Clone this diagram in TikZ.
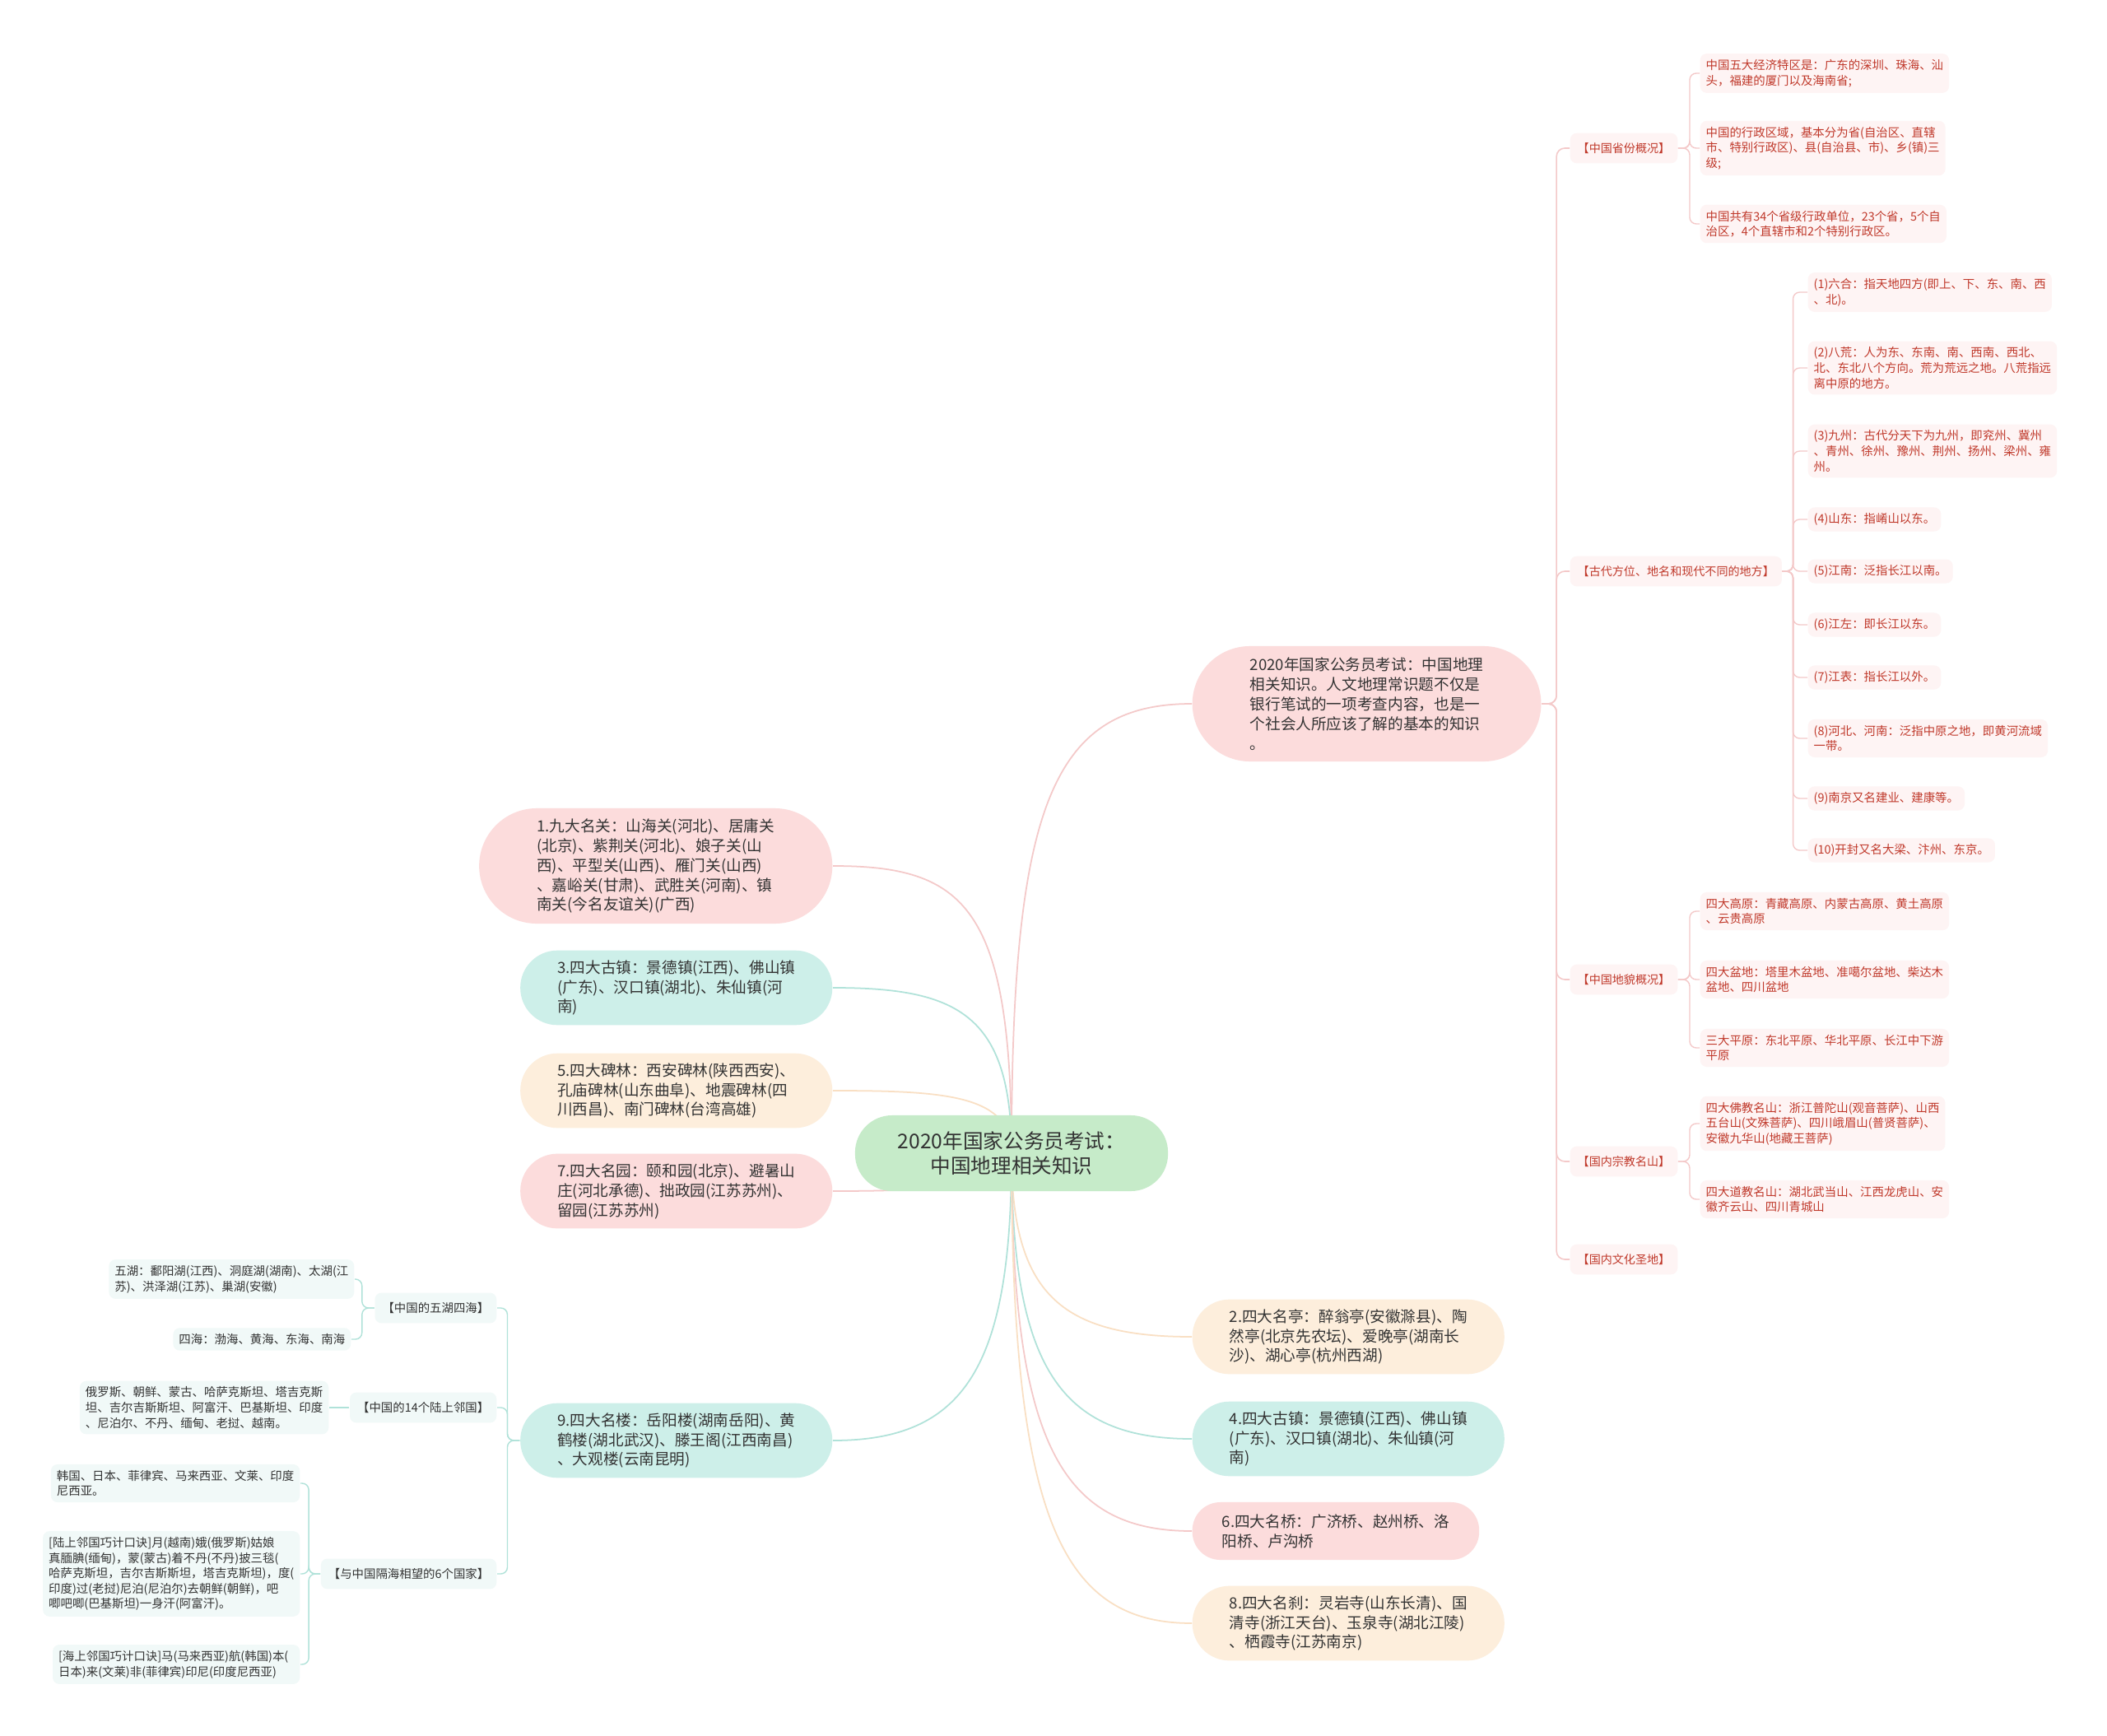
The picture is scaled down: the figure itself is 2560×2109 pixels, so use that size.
\documentclass[tikz,border=0pt]{standalone}
\usepackage{fontspec}
\newfontfamily\cjk{Noto Sans CJK SC}
\usetikzlibrary{backgrounds}

\definecolor{greenfill}{HTML}{C6EBC9}
\definecolor{pinkfill}{HTML}{FCDCDC}
\definecolor{tealfill}{HTML}{CDEFE9}
\definecolor{creamfill}{HTML}{FDEEDC}
\definecolor{pinkline}{HTML}{F4C9C9}
\definecolor{tealline}{HTML}{B0E2D9}
\definecolor{creamline}{HTML}{F9DFC3}
\definecolor{redtext}{HTML}{C0392B}
\definecolor{redleaf}{HTML}{FEF4F4}
\definecolor{tealleaf}{HTML}{F1F9F8}
\definecolor{greytext}{HTML}{333333}

\tikzset{
    topic/.style = {fill=greenfill, rounded corners=0.45cm, align=center, minimum height=0.92cm,
        minimum width=3.8cm, font={\cjk\fontsize{7}{8.5}\selectfont}, text=greytext},
    mainbox/.style = {rounded corners=0.45cm, align=left, inner xsep=0.45cm, minimum height=0.9cm,
        font={\cjk\fontsize{5.3}{6.8}\selectfont}, text=greytext},
    bigbox/.style = {mainbox, rounded corners=0.7cm, inner xsep=0.7cm, minimum height=1.4cm},
    smallbox/.style = {mainbox, rounded corners=0.34cm, inner xsep=0.36cm, minimum height=0.7cm},
    rtopic/.style = {fill=redleaf, text=redtext, rounded corners=0.08cm, inner xsep=0.09cm,
        minimum height=0.36cm, font={\cjk\fontsize{4}{5}\selectfont}, anchor=west},
    rleaf/.style = {fill=redleaf, text=redtext, align=left, rounded corners=0.08cm, inner xsep=0.07cm,
        inner ysep=2pt, font={\cjk\fontsize{4.1}{5.3}\selectfont}, anchor=west},
    ltopic/.style = {rtopic, fill=tealleaf, text=greytext, font={\cjk\fontsize{4.1}{5}\selectfont}, anchor=east},
    lleaf/.style = {rleaf, fill=tealleaf, text=greytext, anchor=east},
    pinkcon/.style = {draw=pinkline, line width=0.5pt},
    tealcon/.style = {draw=tealline, line width=0.5pt},
    creamcon/.style = {draw=creamline, line width=0.5pt},
    rlink/.style = {draw=pinkline, line width=0.45pt, rounded corners=0.1cm},
    rbrack/.style = {draw=pinkline, line width=0.4pt, rounded corners=0.08cm},
    lbrack/.style = {draw=tealline, line width=0.4pt, rounded corners=0.08cm}
}

\begin{document}
\begin{tikzpicture}[x=0.01cm, y=-0.01cm]
    \useasboundingbox (0,0) rectangle (2560,2109);

    \node[topic] (root) at (1229,1401) {2020年国家公务员考试：\\中国地理相关知识};

    \node[bigbox, fill=pinkfill, anchor=west] (intro) at (1448,855) {2020年国家公务员考试：中国地理\\相关知识。人文地理常识题不仅是\\银行笔试的一项考查内容，也是一\\个社会人所应该了解的基本的知识\\。};

    \node[bigbox, fill=pinkfill, anchor=east] (guan) at (1012,1052) {1.九大名关：山海关(河北)、居庸关\\(北京)、紫荆关(河北)、娘子关(山\\西)、平型关(山西)、雁门关(山西)\\、嘉峪关(甘肃)、武胜关(河南)、镇\\南关(今名友谊关)(广西)};
    \node[mainbox, fill=tealfill, anchor=east] (zhena) at (1012,1200) {3.四大古镇：景德镇(江西)、佛山镇\\(广东)、汉口镇(湖北)、朱仙镇(河\\南)};
    \node[mainbox, fill=creamfill, anchor=east] (bei) at (1012,1325) {5.四大碑林：西安碑林(陕西西安)、\\孔庙碑林(山东曲阜)、地震碑林(四\\川西昌)、南门碑林(台湾高雄)};
    \node[mainbox, fill=pinkfill, anchor=east] (yuan) at (1012,1447) {7.四大名园：颐和园(北京)、避暑山\\庄(河北承德)、拙政园(江苏苏州)、\\留园(江苏苏州)};
    \node[mainbox, fill=tealfill, anchor=east] (lou) at (1012,1750) {9.四大名楼：岳阳楼(湖南岳阳)、黄\\鹤楼(湖北武汉)、滕王阁(江西南昌)\\、大观楼(云南昆明)};

    \node[mainbox, fill=creamfill, anchor=west] (ting) at (1448,1624) {2.四大名亭：醉翁亭(安徽滁县)、陶\\然亭(北京先农坛)、爱晚亭(湖南长\\沙)、湖心亭(杭州西湖)};
    \node[mainbox, fill=tealfill, anchor=west] (zhenb) at (1448,1748) {4.四大古镇：景德镇(江西)、佛山镇\\(广东)、汉口镇(湖北)、朱仙镇(河\\南)};
    \node[smallbox, fill=pinkfill, anchor=west] (qiao) at (1448,1860) {6.四大名桥：广济桥、赵州桥、洛\\阳桥、卢沟桥};
    \node[mainbox, fill=creamfill, anchor=west] (sha) at (1448,1972) {8.四大名刹：灵岩寺(山东长清)、国\\清寺(浙江天台)、玉泉寺(湖北江陵)\\、栖霞寺(江苏南京)};

    \begin{scope}[on background layer]
        \fill[white] (0,0) rectangle (2560,2109);
        \draw[pinkcon] (root.center) .. controls +(0,-420) and +(-170,0) .. (intro.west);
        \draw[pinkcon] (root.center) .. controls +(0,-300) and +(160,0) .. (guan.east);
        \draw[tealcon] (root.center) .. controls +(0,-170) and +(150,0) .. (zhena.east);
        \draw[creamcon] (root.center) .. controls +(0,-70) and +(140,0) .. (bei.east);
        \draw[pinkcon] (root.center) .. controls +(0,40) and +(130,0) .. (yuan.east);
        \draw[tealcon] (root.center) .. controls +(0,260) and +(160,0) .. (lou.east);
        \draw[creamcon] (root.center) .. controls +(0,170) and +(-160,0) .. (ting.west);
        \draw[tealcon] (root.center) .. controls +(0,260) and +(-160,0) .. (zhenb.west);
        \draw[pinkcon] (root.center) .. controls +(0,350) and +(-160,0) .. (qiao.west);
        \draw[creamcon] (root.center) .. controls +(0,440) and +(-160,0) .. (sha.west);
    \end{scope}

    \node[rtopic] (sf) at (1907,180) {【中国省份概况】};
    \node[rtopic] (gd) at (1907,694) {【古代方位、地名和现代不同的地方】};
    \node[rtopic] (dm) at (1907,1190) {【中国地貌概况】};
    \node[rtopic] (zj) at (1907,1411) {【国内宗教名山】};
    \node[rtopic] (wh) at (1907,1530) {【国内文化圣地】};

    \node[rleaf] (sfa) at (2065,89) {中国五大经济特区是：广东的深圳、珠海、汕\\头，福建的厦门以及海南省;};
    \node[rleaf] (sfb) at (2065,180) {中国的行政区域，基本分为省(自治区、直辖\\市、特别行政区)、县(自治县、市)、乡(镇)三\\级;};
    \node[rleaf] (sfc) at (2065,272) {中国共有34个省级行政单位，23个省，5个自\\治区，4个直辖市和2个特别行政区。};

    \node[rleaf] (gda) at (2196,355) {(1)六合：指天地四方(即上、下、东、南、西\\、北)。};
    \node[rleaf] (gdb) at (2196,447) {(2)八荒：人为东、东南、南、西南、西北、\\北、东北八个方向。荒为荒远之地。八荒指远\\离中原的地方。};
    \node[rleaf] (gdc) at (2196,548) {(3)九州：古代分天下为九州，即兖州、冀州\\、青州、徐州、豫州、荆州、扬州、梁州、雍\\州。};
    \node[rleaf] (gdd) at (2196,631) {(4)山东：指崤山以东。};
    \node[rleaf] (gde) at (2196,694) {(5)江南：泛指长江以南。};
    \node[rleaf] (gdf) at (2196,759) {(6)江左：即长江以东。};
    \node[rleaf] (gdg) at (2196,823) {(7)江表：指长江以外。};
    \node[rleaf] (gdh) at (2196,897) {(8)河北、河南：泛指中原之地，即黄河流域\\一带。};
    \node[rleaf] (gdi) at (2196,970) {(9)南京又名建业、建康等。};
    \node[rleaf] (gdj) at (2196,1033) {(10)开封又名大梁、汴州、东京。};

    \node[rleaf] (dma) at (2065,1107) {四大高原：青藏高原、内蒙古高原、黄土高原\\、云贵高原};
    \node[rleaf] (dmb) at (2065,1190) {四大盆地：塔里木盆地、准噶尔盆地、柴达木\\盆地、四川盆地};
    \node[rleaf] (dmc) at (2065,1273) {三大平原：东北平原、华北平原、长江中下游\\平原};

    \node[rleaf] (zja) at (2065,1365) {四大佛教名山：浙江普陀山(观音菩萨)、山西\\五台山(文殊菩萨)、四川峨眉山(普贤菩萨)、\\安徽九华山(地藏王菩萨)};
    \node[rleaf] (zjb) at (2065,1457) {四大道教名山：湖北武当山、江西龙虎山、安\\徽齐云山、四川青城山};

    \node[ltopic] (hu) at (604,1589) {【中国的五湖四海】};
    \node[ltopic] (lin) at (604,1710) {【中国的14个陆上邻国】};
    \node[ltopic] (ge) at (604,1912) {【与中国隔海相望的6个国家】};

    \node[lleaf] (wuhu) at (431,1554) {五湖：鄱阳湖(江西)、洞庭湖(湖南)、太湖(江\\苏)、洪泽湖(江苏)、巢湖(安徽)};
    \node[lleaf] (sihai) at (427,1627) {四海：渤海、黄海、东海、南海};
    \node[lleaf] (lubang) at (400,1710) {俄罗斯、朝鲜、蒙古、哈萨克斯坦、塔吉克斯\\坦、吉尔吉斯斯坦、阿富汗、巴基斯坦、印度\\、尼泊尔、不丹、缅甸、老挝、越南。};
    \node[lleaf] (hanguo) at (365,1802) {韩国、日本、菲律宾、马来西亚、文莱、印度\\尼西亚。};
    \node[lleaf] (luk) at (365,1912) {[陆上邻国巧计口诀]月(越南)娥(俄罗斯)姑娘\\真腼腆(缅甸)，蒙(蒙古)着不丹(不丹)披三毯(\\哈萨克斯坦，吉尔吉斯斯坦，塔吉克斯坦)，度(\\印度)过(老挝)尼泊(尼泊尔)去朝鲜(朝鲜)，吧\\唧吧唧(巴基斯坦)一身汗(阿富汗)。};
    \node[lleaf, text width=2.86cm] (haik) at (365,2022) {[海上邻国巧计口诀]马(马来西亚)航(韩国)本(\\日本)来(文莱)非(菲律宾)印尼(印度尼西亚)};

    \draw[rlink] (intro.east) -- ++(18,0) |- (sf.west);
    \draw[rlink] (intro.east) -- ++(18,0) |- (gd.west);
    \draw[rlink] (intro.east) -- ++(18,0) |- (dm.west);
    \draw[rlink] (intro.east) -- ++(18,0) |- (zj.west);
    \draw[rlink] (intro.east) -- ++(18,0) |- (wh.west);

    \draw[rbrack] (sf.east) -- ++(14,0) |- (sfa.west);
    \draw[rbrack] (sf.east) -- ++(14,0) |- (sfb.west);
    \draw[rbrack] (sf.east) -- ++(14,0) |- (sfc.west);

    \draw[rbrack] (gd.east) -- ++(13,0) |- (gda.west);
    \draw[rbrack] (gd.east) -- ++(13,0) |- (gdb.west);
    \draw[rbrack] (gd.east) -- ++(13,0) |- (gdc.west);
    \draw[rbrack] (gd.east) -- ++(13,0) |- (gdd.west);
    \draw[rbrack] (gd.east) -- ++(13,0) |- (gde.west);
    \draw[rbrack] (gd.east) -- ++(13,0) |- (gdf.west);
    \draw[rbrack] (gd.east) -- ++(13,0) |- (gdg.west);
    \draw[rbrack] (gd.east) -- ++(13,0) |- (gdh.west);
    \draw[rbrack] (gd.east) -- ++(13,0) |- (gdi.west);
    \draw[rbrack] (gd.east) -- ++(13,0) |- (gdj.west);

    \draw[rbrack] (dm.east) -- ++(14,0) |- (dma.west);
    \draw[rbrack] (dm.east) -- ++(14,0) |- (dmb.west);
    \draw[rbrack] (dm.east) -- ++(14,0) |- (dmc.west);

    \draw[rbrack] (zj.east) -- ++(14,0) |- (zja.west);
    \draw[rbrack] (zj.east) -- ++(14,0) |- (zjb.west);

    \draw[lbrack] (lou.west) -- ++(-15,0) |- (hu.east);
    \draw[lbrack] (lou.west) -- ++(-15,0) |- (lin.east);
    \draw[lbrack] (lou.west) -- ++(-15,0) |- (ge.east);

    \draw[lbrack] (hu.west) -- ++(-15,0) |- (wuhu.east);
    \draw[lbrack] (hu.west) -- ++(-15,0) |- (sihai.east);
    \draw[lbrack] (lin.west) -- (lubang.east);
    \draw[lbrack] (ge.west) -- ++(-14,0) |- (hanguo.east);
    \draw[lbrack] (ge.west) -- ++(-14,0) |- (luk.east);
    \draw[lbrack] (ge.west) -- ++(-14,0) |- (haik.east);
\end{tikzpicture}
\end{document}
